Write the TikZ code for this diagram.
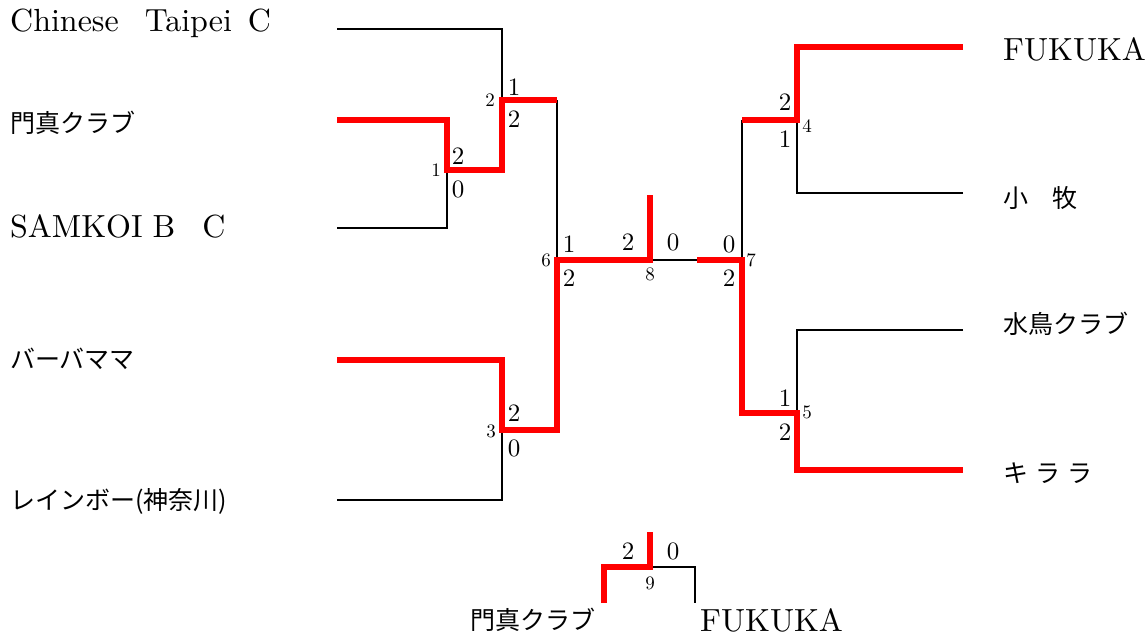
\documentclass[tikz,border=0pt]{standalone}
\usepackage{fontspec}
\newfontfamily\jp{Noto Sans CJK JP}
\newfontfamily\lmten{lmroman10-regular.otf}
\begin{document}
\begin{tikzpicture}[x=1pt,y=-1pt,
  win/.style={draw=red,line width=6pt,line join=miter},
  lose/.style={draw=black,line width=2pt},
  team/.style={anchor=west,inner sep=0pt,font=\lmten\fontsize{32}{32}\selectfont},
  jteam/.style={anchor=west,inner sep=0pt,font=\jp\fontsize{25}{25}\selectfont},
  sc/.style={inner sep=0pt,font=\lmten\fontsize{25}{25}\selectfont},
  mn/.style={inner sep=0pt,font=\lmten\fontsize{19}{19}\selectfont}]
\useasboundingbox (0,0) rectangle (1148,637);

% team labels
\node[team] (t1) at (10,23) {Chinese\hspace{26pt}Taipei\hspace{16pt}C};
\node[jteam] (t2) at (10,123) {門真クラブ};
\node[team] (t3) at (10,226) {SAMKOI\hspace{10pt}B\hspace{27pt}C};
\node[jteam] (t4) at (10,359) {バーバママ};
\node[jteam] (t5) at (10,501) {レインボー(神奈川)};
\node[team] (t6) at (1003,49) {FUKUKA};
\node[jteam] (t7) at (1003,198) {小\hspace{24pt}牧};
\node[jteam] (t8) at (1003,324) {水鳥クラブ};
\node[jteam] (t9) at (1003,473) {キ\hspace{7pt}ラ\hspace{7pt}ラ};
\node[jteam] (f1) at (470,620) {門真クラブ};
\node[team] (f2) at (700,620) {FUKUKA};

% line coordinates
\coordinate (a1) at (337,29);   \coordinate (a2) at (337,120);
\coordinate (a3) at (337,228);  \coordinate (a4) at (337,360);
\coordinate (a5) at (337,500);
\coordinate (b1) at (963,47);   \coordinate (b2) at (963,193);
\coordinate (b3) at (963,330);  \coordinate (b4) at (963,470);
\coordinate (m1) at (447,170);  \coordinate (m2) at (502,100);
\coordinate (m3) at (502,430);  \coordinate (m6) at (557,260);
\coordinate (m8) at (650,260);  \coordinate (m8t) at (650,195);
\coordinate (m7) at (742,260);  \coordinate (m4) at (797,120);
\coordinate (m5) at (797,413);  \coordinate (r8) at (697,260);
\coordinate (m9) at (650,567);  \coordinate (m9t) at (650,532);
\coordinate (c1) at (604,603);  \coordinate (c2) at (695,603);

% black (losing) lines
\draw[lose] (a1) -| (m2);
\draw[lose] (a3) -| (m1);
\draw[lose] (a5) -| (m3);
\draw[lose] (m2 -| m6) -- (m6);
\draw[lose] (m8) -- (r8);
\draw[lose] (m7) -- (m7 |- m4);
\draw[lose] (b2) -| (m4);
\draw[lose] (b3) -| (m5);
\draw[lose] (m9) -| (c2);

% red (winning) lines
\draw[win] (a2) -| (m1) -- (m1 -| m2) -- (m2) -- (m2 -| m6);
\draw[win] (a4) -| (m3) -- (m3 -| m6) -- (m6) -- (m8) -- (m8t);
\draw[win] (r8) -- (m7) -- (m7 |- m5) -- (m5) |- (b4);
\draw[win] (m7 |- m4) -- (m4) |- (b1);
\draw[win] (c1) |- (m9) -- (m9t);

% match numbers
\node[mn] (n1) at (436,170) {1};
\node[mn] (n2) at (490,100) {2};
\node[mn] (n3) at (491,431) {3};
\node[mn] (n4) at (807,126) {4};
\node[mn] (n5) at (807,412) {5};
\node[mn] (n6) at (546,260) {6};
\node[mn] (n7) at (751,260) {7};
\node[mn] (n8) at (650,274) {8};
\node[mn] (n9) at (650,583) {9};

% scores
\node[sc] (s1a) at (458,156) {2};  \node[sc] (s1b) at (458,189) {0};
\node[sc] (s2a) at (514,87) {1};   \node[sc] (s2b) at (514,119) {2};
\node[sc] (s3a) at (514,413) {2};  \node[sc] (s3b) at (514,448) {0};
\node[sc] (s6a) at (569,244) {1};  \node[sc] (s6b) at (569,278) {2};
\node[sc] (s8a) at (628,242) {2};  \node[sc] (s8b) at (673,242) {0};
\node[sc] (s7a) at (729,244) {0};  \node[sc] (s7b) at (729,278) {2};
\node[sc] (s4a) at (785,102) {2};  \node[sc] (s4b) at (785,139) {1};
\node[sc] (s5a) at (785,398) {1};  \node[sc] (s5b) at (785,432) {2};
\node[sc] (s9a) at (628,551) {2};  \node[sc] (s9b) at (673,551) {0};
\end{tikzpicture}
\end{document}
